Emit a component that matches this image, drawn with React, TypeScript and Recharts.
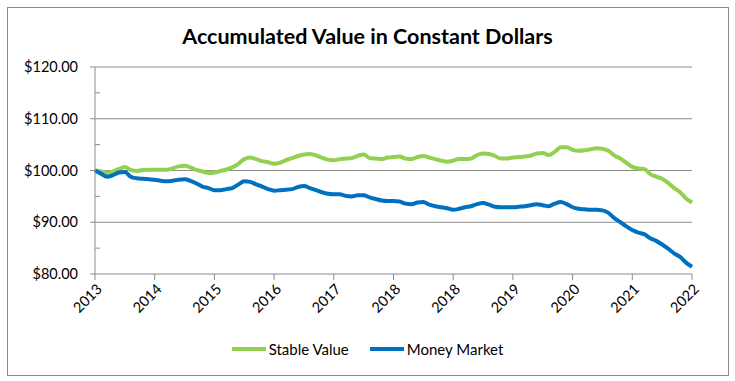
import React from 'react';
import { LineChart, Line, XAxis, YAxis, ReferenceLine } from 'recharts';

const yearLabels = ['2013', '2014', '2015', '2016', '2017', '2018', '2018', '2019', '2020', '2021', '2022'];

const stableValue = [
  100.0, 99.8, 99.5, 99.8, 100.3, 100.7, 100.1, 99.9, 100.1, 100.15,
  100.15, 100.15, 100.15, 100.4, 100.8, 100.9, 100.6, 100.1, 99.8, 99.5,
  99.6, 99.9, 100.2, 100.6, 101.3, 102.2, 102.5, 102.2, 101.8, 101.6,
  101.3, 101.5, 102.0, 102.4, 102.8, 103.1, 103.2, 102.9, 102.5, 102.1,
  102.0, 102.2, 102.3, 102.4, 102.8, 103.1, 102.4, 102.3, 102.2, 102.5,
  102.6, 102.7, 102.3, 102.2, 102.6, 102.8, 102.5, 102.2, 101.9, 101.7,
  101.9, 102.2, 102.2, 102.3, 103.0, 103.3, 103.2, 102.8, 102.3, 102.3,
  102.5, 102.6, 102.7, 102.9, 103.3, 103.4, 103.0, 103.6, 104.5, 104.5,
  104.0, 103.8, 103.9, 104.1, 104.3, 104.2, 103.8, 102.9, 102.3, 101.5,
  100.7, 100.4, 100.3, 99.3, 98.8, 98.4, 97.6, 96.6, 95.8, 94.6,
  93.8,
];

const moneyMarket = [
  100.0, 99.4, 98.8, 99.1, 99.6, 99.7, 98.8, 98.5, 98.4, 98.3,
  98.2, 98.0, 97.9, 98.0, 98.2, 98.3, 98.0, 97.5, 96.9, 96.6,
  96.2, 96.2, 96.4, 96.6, 97.3, 97.9, 97.8, 97.3, 96.9, 96.4,
  96.1, 96.2, 96.3, 96.4, 96.8, 97.0, 96.6, 96.2, 95.8, 95.5,
  95.4, 95.4, 95.1, 95.0, 95.2, 95.2, 94.8, 94.5, 94.2, 94.1,
  94.1, 94.0, 93.6, 93.5, 93.8, 93.9, 93.4, 93.1, 92.9, 92.7,
  92.4, 92.6, 92.9, 93.1, 93.5, 93.7, 93.4, 93.0, 92.9, 92.9,
  92.9, 93.0, 93.1, 93.3, 93.5, 93.3, 93.1, 93.6, 93.9, 93.5,
  92.9, 92.6, 92.5, 92.4, 92.4, 92.3, 91.8, 90.8, 90.0, 89.2,
  88.5, 88.0, 87.7, 86.9, 86.4, 85.7, 84.9, 84.0, 83.3, 82.2,
  81.4,
];

const yTicks = [80, 85, 90, 95, 100, 105, 110, 115, 120];
const gridValues = [90, 100, 110, 120];
const xTicks = yearLabels.map((_, k) => k * 10);

const data = stableValue.map((v, i) => ({ i, stable: v, money: moneyMarket[i] }));

const FONT = 'Lato, "Open Sans", sans-serif';
const GREEN = '#92D050';
const BLUE = '#0070C0';
const GRID = '#8c8c8c';

const YTick = (props: any) => {
  const { x, y, payload } = props;
  const major = payload.value % 10 === 0;
  if (!major) {
    return <line x1={x} x2={x + 5} y1={y} y2={y} stroke={GRID} />;
  }
  return (
    <g>
      <line x1={x - 5} x2={x} y1={y} y2={y} stroke={GRID} />
      <text x={x - 17} y={y} dy={5} textAnchor="end" fontSize={14.5} fill="#000" fontFamily={FONT}>
        ${payload.value.toFixed(2)}
      </text>
    </g>
  );
};

const XTick = (props: any) => {
  const { x, payload } = props;
  const label = yearLabels[Math.round(payload.value / 10)];
  const ax = x + 8;
  const ay = 290;
  return (
    <text x={ax} y={ay} transform={`rotate(-45, ${ax}, ${ay})`} textAnchor="end" fontSize={14.5} fill="#000" fontFamily={FONT}>
      {label}
    </text>
  );
};

export default function App() {
  return (
    <div style={{ position: 'absolute', left: 0, top: 0, width: 735, height: 381, background: '#fff', fontFamily: FONT }}>
      <div style={{ position: 'absolute', left: 7, top: 7, width: 720, height: 367, border: '1px solid #898989' }} />
      <div style={{ position: 'absolute', left: 0, top: 23, width: 735, textAlign: 'center', fontSize: 21.5, fontWeight: 700, color: '#000' }}>
        Accumulated Value in Constant Dollars
      </div>
      <div style={{ position: 'absolute', left: 0, top: 0 }}>
        <LineChart width={735} height={381} data={data} margin={{ top: 67, right: 43, left: 0, bottom: 0 }}>
          {gridValues.map((g) => (
            <ReferenceLine key={g} y={g} stroke={GRID} strokeWidth={1} />
          ))}
          <XAxis
            dataKey="i"
            type="number"
            domain={[0, 100]}
            ticks={xTicks}
            height={107}
            interval={0}
            tickSize={6}
            tickLine={{ stroke: GRID }}
            axisLine={{ stroke: GRID }}
            tick={<XTick />}
          />
          <YAxis
            domain={[80, 120]}
            ticks={yTicks}
            interval={0}
            width={95}
            tickSize={0}
            tickMargin={0}
            tickLine={false}
            axisLine={{ stroke: GRID }}
            tick={<YTick />}
          />
          <Line type="monotone" dataKey="stable" stroke={GREEN} strokeWidth={4} dot={false} isAnimationActive={false} />
          <Line type="monotone" dataKey="money" stroke={BLUE} strokeWidth={4} dot={false} isAnimationActive={false} />
        </LineChart>
      </div>
      <div style={{ position: 'absolute', left: 0, top: 340, width: 735, display: 'flex', justifyContent: 'center', alignItems: 'center', fontSize: 15, color: '#000' }}>
        <span style={{ display: 'inline-block', width: 34, height: 4, background: GREEN, marginRight: 3 }} />
        <span style={{ marginRight: 21 }}>Stable Value</span>
        <span style={{ display: 'inline-block', width: 34, height: 4, background: BLUE, marginRight: 3 }} />
        <span>Money Market</span>
      </div>
    </div>
  );
}
